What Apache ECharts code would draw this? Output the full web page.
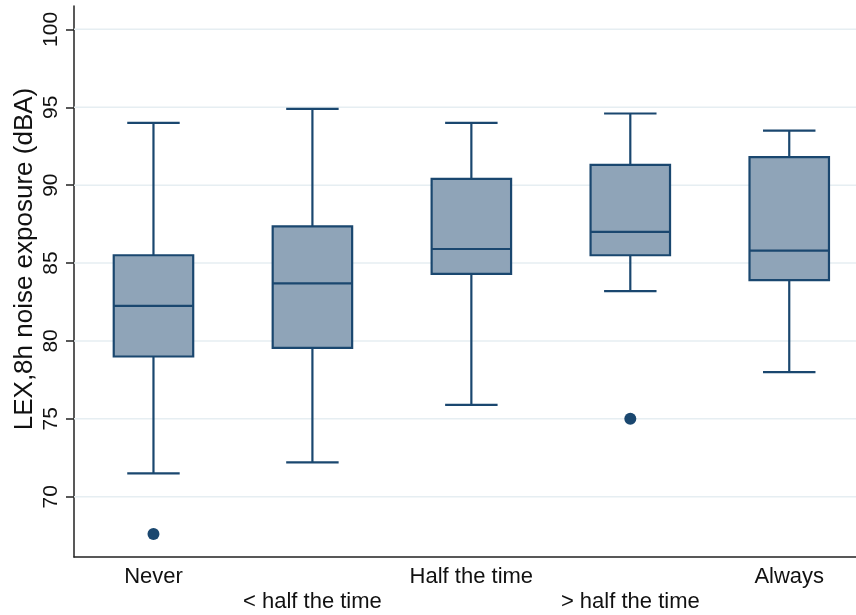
<!DOCTYPE html>
<html><head><meta charset="utf-8">
<script src="https://cdn.jsdelivr.net/npm/echarts@6/dist/echarts.min.js"></script>
<style>html,body{margin:0;padding:0;background:#fff}#c{width:856px;height:615px}</style>
</head><body><div id="c"></div>
<script>
const categories = ['Never', '< half the time', 'Half the time', '> half the time', 'Always'];
const whiskerLow = [71.5, 72.2, 75.9, 83.2, 78.0];
const q1 = [79.0, 79.55, 84.3, 85.5, 83.9];
const median = [82.25, 83.7, 85.9, 87.0, 85.8];
const q3 = [85.5, 87.35, 90.4, 91.3, 91.8];
const whiskerHigh = [94.0, 94.9, 94.0, 94.6, 93.5];
const outliers = [[0, 67.6], [3, 75.0]];
const yTicks = [70, 75, 80, 85, 90, 95, 100];
const yMin = 66.13, yMax = 101.5;
const xPositions = [0, 1, 2, 3, 4];

const boxData = categories.map((c, i) => [i, whiskerLow[i], q1[i], median[i], q3[i], whiskerHigh[i]]);
const NAVY = '#1a476f', FILL = '#8fa4b8';
const FONT = 'Liberation Sans, Arial, Helvetica, sans-serif';

const chart = echarts.init(document.getElementById('c'));
chart.setOption({
  animation: false,
  grid: { left: 74, top: 6, bottom: 58, right: 0 },
  xAxis: {
    type: 'value', min: -0.5, max: 4.42,
    axisLine: { show: true, onZero: false, lineStyle: { color: '#222', width: 1.5 } },
    axisTick: { show: false },
    axisLabel: {
      customValues: xPositions, showMinLabel: true, showMaxLabel: true,
      color: '#111', fontSize: 22, fontFamily: FONT,
      margin: 7, lineHeight: 25,
      formatter: (v) => { const i = Math.round(v); return i % 2 ? '\n' + categories[i] : categories[i]; }
    },
    splitLine: { show: false }
  },
  yAxis: {
    type: 'value', min: yMin, max: yMax,
    axisLine: { show: true, onZero: false, lineStyle: { color: '#222', width: 1.5 } },
    axisTick: { show: true, length: 8, customValues: yTicks, lineStyle: { color: '#222', width: 1.5 } },
    axisLabel: {
      customValues: yTicks, rotate: 90, color: '#111', fontSize: 21,
      fontFamily: FONT, margin: 12
    },
    splitLine: { show: false }
  },
  graphic: [{
    type: 'text', x: 25, y: 259, rotation: Math.PI / 2,
    style: { text: 'LEX,8h noise exposure (dBA)', fill: '#111', fontSize: 26,
      fontFamily: FONT, align: 'center', verticalAlign: 'middle' }
  }],
  series: [{
    type: 'custom', z: 1, silent: true, data: yTicks,
    encode: { y: 0 },
    renderItem: function (params, api) {
      const cs = params.coordSys;
      const y = api.coord([0, api.value(0)])[1];
      return { type: 'line', shape: { x1: cs.x, y1: y, x2: cs.x + cs.width, y2: y },
        style: { stroke: '#e6eef2', lineWidth: 1.5 } };
    }
  }, {
    type: 'custom', z: 3, data: boxData,
    encode: { x: 0, y: [1, 2, 3, 4, 5] },
    renderItem: function (params, api) {
      const i = api.value(0);
      const unit = api.size([1, 0])[0];
      const x = api.coord([i, 0])[0];
      const yLo = api.coord([i, api.value(1)])[1];
      const yQ1 = api.coord([i, api.value(2)])[1];
      const yMed = api.coord([i, api.value(3)])[1];
      const yQ3 = api.coord([i, api.value(4)])[1];
      const yHi = api.coord([i, api.value(5)])[1];
      const bw = unit * 0.5, cw = unit * 0.33;
      const ls = { stroke: NAVY, lineWidth: 2.2, fill: null };
      return {
        type: 'group', children: [
          { type: 'line', shape: { x1: x, y1: yHi, x2: x, y2: yQ3 }, style: ls },
          { type: 'line', shape: { x1: x, y1: yQ1, x2: x, y2: yLo }, style: ls },
          { type: 'line', shape: { x1: x - cw / 2, y1: yHi, x2: x + cw / 2, y2: yHi }, style: ls },
          { type: 'line', shape: { x1: x - cw / 2, y1: yLo, x2: x + cw / 2, y2: yLo }, style: ls },
          { type: 'rect', shape: { x: x - bw / 2, y: yQ3, width: bw, height: yQ1 - yQ3 },
            style: { fill: FILL, stroke: NAVY, lineWidth: 2.2 } },
          { type: 'line', shape: { x1: x - bw / 2, y1: yMed, x2: x + bw / 2, y2: yMed }, style: ls }
        ]
      };
    }
  }, {
    type: 'scatter', z: 4, data: outliers, symbol: 'circle', symbolSize: 12,
    itemStyle: { color: NAVY, opacity: 1 }
  }]
});
</script></body></html>
